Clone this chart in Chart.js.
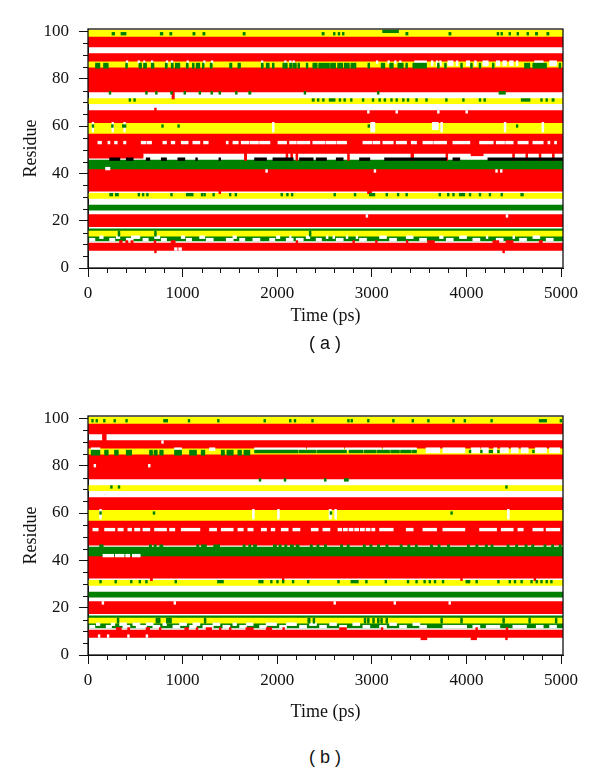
<!DOCTYPE html>
<html>
<head>
<meta charset="utf-8">
<script src="https://cdn.jsdelivr.net/npm/chart.js@4.4.0/dist/chart.umd.min.js"></script>
<style>
  body { margin: 0; background: #fff; width: 600px; height: 774px; position: relative; overflow: hidden; }
  canvas { position: absolute; left: 0; }
  #chartA { top: 0; }
  #chartB { top: 387px; }
  .cap { position: absolute; left: 25px; width: 600px; height: 22px; line-height: 22px; text-align: center;
         font-family: "Liberation Sans", Arial, sans-serif; font-size: 18px; color: #111; }
</style>
</head>
<body>
<canvas id="chartA" width="600" height="340"></canvas>
<div class="cap" style="top:332px">( a )</div>
<canvas id="chartB" width="600" height="340"></canvas>
<div class="cap" style="top:746px">( b )</div>
<script>
// Secondary structure per residue over the simulation, two runs (a) and (b)
const T_END = 5020;  // end of the time axis, bands run to the frame
const xTicks = [0, 1000, 2000, 3000, 4000, 5000];
const yTicks = [0, 20, 40, 60, 80, 100];
const stateColors = { R: '#ff0000', Y: '#ffff00', G: '#008000', K: '#000000', W: '#ffffff' };

// state held for the whole run: [first residue, last residue, state]
const bandsA = [
  [8, 10, 'R'], [12, 13, 'G'], [14, 15, 'Y'], [16, 16, 'G'], [18, 22, 'R'], [25, 26, 'G'],
  [30, 31, 'Y'], [33, 41, 'R'], [42, 45, 'G'], [49, 56, 'R'], [57, 61, 'Y'], [62, 66, 'R'],
  [70, 71, 'Y'], [75, 84, 'R'], [85, 87, 'Y'], [88, 90, 'R'], [94, 97, 'R'], [98, 100, 'Y']
];
const bandsB = [
  [8, 10, 'R'], [12, 13, 'G'], [14, 15, 'Y'], [16, 16, 'G'], [18, 22, 'R'], [25, 26, 'G'],
  [30, 31, 'Y'], [33, 41, 'R'], [42, 45, 'G'], [47, 56, 'R'], [57, 61, 'Y'], [62, 66, 'R'],
  [70, 71, 'Y'], [75, 84, 'R'], [85, 87, 'Y'], [88, 90, 'R'], [94, 97, 'R'], [98, 100, 'Y']
];

// short changes: [first residue, last residue, state, [t0, t1, t0, t1, ...]] (ps)
const eventsA = [
  [99, 99, 'G', [255,280, 350,400, 765,790, 865,885, 1110,1130, 1215,1235, 1640,1660, 2475,2495, 2595,2610, 2645,2660, 2690,2705, 3360,3380, 3815,3835, 4325,4340, 4365,4380, 4450,4465, 4535,4550, 4640,4655, 4730,4750, 4850,4870]],
  [100, 100, 'G', [3115,3280]],
  [85, 86, 'G', [81,124, 166,212, 400,415, 540,564, 589,617, 670,695, 818,836, 881,899, 924,969, 1040,1057, 1105,1120, 1145,1180, 1210,1225, 1293,1311, 1498,1519, 1586,1610, 1833,1850, 1885,1913, 1950,1965, 2083,2104, 2132,2153, 2185,2200, 2061,2075, 2167,2180, 2220,2235, 2308,2322, 2378,2420, 2440,2490, 2500,2550, 2565,2615, 2640,2690, 2710,2760, 2780,2830, 2960,2975, 3100,3135, 3190,3224, 3277,3330, 3360,3375, 3435,3576, 3695,3710, 3770,3785, 3940,3955, 4045,4060, 4135,4150, 4275,4290, 4615,4668, 4703,4844, 4980,4995]],
  [87, 87, 'W', [406,420, 529,545, 589,600, 670,684, 828,842, 881,895, 1047,1060, 1223,1236, 1304,1318, 1833,1847, 2079,2093, 2132,2146, 2167,2181, 3048,3062, 3171,3185, 3241,3255, 3294,3308, 3453,3576]],
  [86, 87, 'W', [3629,3645, 3682,3697, 3717,3732, 3805,3858, 3893,3908, 4000,4034, 4087,4102, 4175,4228, 4316,4350, 4386,4420, 4457,4492, 4527,4542, 4721,4809, 4880,4950]],
  [74, 74, 'G', [225,240, 610,625, 715,730, 875,890, 1015,1030, 1175,1190, 1300,1315, 1385,1400, 1560,1575, 1700,1720, 2285,2300, 3060,3075, 4345,4410]],
  [72, 74, 'R', [890,910]],
  [71, 71, 'G', [435,450, 485,500, 2370,2390, 2425,2440, 2480,2495, 2550,2610, 2655,2670, 2705,2720, 2775,2790, 2900,2915, 3005,3020, 3075,3090, 3130,3145, 3200,3215, 3255,3270, 3325,3340, 3375,3390, 3465,3480, 3570,3585, 3780,3795, 3960,3975, 4135,4150, 4185,4200, 4580,4670, 4785,4800, 4840,4855, 4905,4925]],
  [66, 66, 'W', [2955,2970, 3255,3270, 3695,3710, 3995,4010]],
  [67, 67, 'R', [705,720]],
  [58, 61, 'W', [45,58, 255,268, 380,393, 1950,1965, 2990,3030, 3730,3745, 4400,4415, 4800,4815]],
  [59, 61, 'W', [3640,3700]],
  [60, 60, 'G', [45,60, 250,265, 365,400, 780,795, 950,965, 2960,2975, 4528,4542]],
  [53, 53, 'W', [106,141, 212,230, 282,307, 378,399, 564,610, 625,670, 793,828, 881,916, 987,1057, 1110,1181, 1223,1269, 1463,1480, 1533,1586, 1621,1700, 1715,1800, 1815,1921, 2009,2097, 2132,2200, 2215,2343, 2378,2500, 2515,2620, 2635,2731, 2907,3000, 3015,3083, 3118,3224, 3259,3365, 3418,3470, 3541,3640, 3655,3788, 3858,4034, 4140,4281, 4316,4400, 4415,4492, 4545,4651, 4703,4809, 4862,4880, 4932,4950]],
  [47, 48, 'R', [0,580]],
  [46, 48, 'R', [1655,1675, 2095,2110, 2145,2160, 2200,2215, 2745,2760, 3415,3440, 3785,3800, 4490,4505, 4630,4645, 4770,4785, 4910,4925]],
  [48, 48, 'R', [4050,4175]],
  [46, 46, 'K', [230,335, 406,476, 617,652, 776,828, 951,1022, 1140,1155, 1385,1400, 1762,1885, 1956,2167, 2237,2378, 2413,2519, 2625,2695, 2871,2977, 3136,3788, 3858,3928, 4228,5020]],
  [42, 42, 'W', [187,230]],
  [41, 41, 'W', [1880,1895, 3025,3040, 4310,4325, 4360,4375]],
  [32, 32, 'R', [1385,1400, 2955,2995]],
  [31, 31, 'G', [230,260, 290,320, 530,545, 575,590, 620,635, 875,890, 1040,1110, 1198,1213, 1225,1240, 1320,1335, 1495,1510, 1555,1570, 2040,2055, 2100,2115, 2150,2165, 2600,2615, 2815,2830, 2975,3030, 3150,3165, 3270,3285, 3360,3375, 3710,3725, 3800,3815, 3855,3870, 3925,3980, 4030,4045, 4135,4150, 4240,4255, 4365,4380, 4575,4600]],
  [22, 22, 'W', [2940,2955, 4420,4435]],
  [14, 15, 'G', [320,335, 705,720, 2340,2355]],
  [13, 13, 'W', [124,159, 300,335, 459,547, 705,758, 987,1022, 1181,1233, 1533,1568, 1991,2026, 2132,2145, 2308,2343, 2519,2535, 2590,2605, 2730,2745, 2835,2850, 3083,3153, 3365,3435, 3717,3752, 3928,3999, 4210,4225, 4492,4507, 4703,4774]],
  [12, 12, 'W', [18,71, 230,282, 406,476, 582,635, 776,828, 1040,1093, 1251,1322, 1463,1533, 1604,1656, 1744,1815, 1921,1973, 2097,2167, 2202,2273, 2413,2466, 2625,2695, 2871,2942, 3189,3259, 3506,3576, 3788,3858, 4069,4140, 4316,4386, 4562,4633, 4844,4915]],
  [11, 11, 'R', [335,360, 400,420, 455,476, 700,715, 880,920, 2200,2215, 2800,2815, 3040,3055, 3365,3380, 3590,3660, 4280,4340, 4420,4492, 4770,4800]],
  [8, 8, 'W', [916,940, 960,987]],
  [7, 7, 'R', [705,720, 4385,4400]]
];

const eventsB = [
  [99, 99, 'G', [40,55, 85,100, 165,180, 275,290, 400,415, 800,840, 1060,1075, 1370,1385, 1860,1875, 2130,2145, 2180,2195, 2365,2380, 2745,2760, 2780,2795, 2955,2970, 3220,3235, 3425,3440, 3590,3605, 3855,3870, 3975,3990, 4258,4273, 4770,4845, 4990,5005]],
  [91, 93, 'R', [155,190]],
  [90, 90, 'W', [780,795]],
  [80, 80, 'W', [65,80, 640,655]],
  [85, 86, 'G', [35,124, 177,212, 282,318, 406,459, 652,680, 700,730, 760,793, 916,987, 1075,1145, 1198,1233, 1410,1440, 1470,1533, 1586,1620, 1650,1709]],
  [86, 86, 'G', [1762,2220, 2235,2410, 2425,2730, 2760,2905, 2920,3045, 3060,3185, 3200,3290, 3305,3415, 3430,3470, 4030,4045, 4150,4165, 4240,4275, 4330,4345, 4700,4715]],
  [87, 87, 'W', [35,124, 916,987, 1286,1340, 1762,2300, 2320,2700, 2720,3100, 3120,3470]],
  [86, 87, 'W', [3575,3716, 3752,3981, 4052,4140, 4160,4230, 4290,4320, 4360,4440, 4475,4545, 4580,4650, 4730,4844, 4880,4985]],
  [74, 74, 'G', [1810,1825, 2075,2090, 2500,2515, 2710,2750]],
  [71, 71, 'G', [240,255, 320,335, 4415,4430]],
  [58, 61, 'W', [125,140, 1740,1755, 2005,2020, 2550,2570, 2610,2625, 4435,4450]],
  [60, 60, 'G', [125,140, 690,705, 2560,2575, 3835,3850]],
  [53, 53, 'W', [53,106, 177,282, 318,371, 423,459, 494,547, 582,652, 705,828, 864,916, 987,1181, 1286,1357, 1410,1533, 1586,1639, 1691,1744, 1833,1885, 1938,1973, 2044,2114, 2167,2238, 2361,2431, 2484,2555, 2643,2680, 2700,2740, 2760,2800, 2820,2860, 2880,2920, 2940,2980, 3000,3030, 3083,3224, 3365,3435, 3541,3682, 3752,3981, 4140,4316, 4369,4492, 4545,4598, 4703,4809, 4844,4985]],
  [46, 46, 'G', [124,159, 650,670, 700,720, 760,790, 1150,1170, 1200,1250, 1330,1390, 1640,1660, 1700,1720, 1750,1780, 1960,1990, 2020,2040, 2080,2100, 2140,2170, 2200,2230, 2350,2370, 2420,2440, 2500,2520, 2670,2690, 2740,2760, 2910,2930, 2980,3000, 3060,3080, 3150,3170, 3300,3320, 3380,3400, 3460,3480, 3620,3640, 3700,3720, 3800,3820, 4010,4030, 4100,4120, 4200,4220, 4260,4280, 4430,4450, 4520,4540, 4620,4640, 4690,4710, 4820,4840, 4900,4920, 4980,5000]],
  [42, 42, 'W', [160,270, 290,380, 400,440, 470,550]],
  [32, 32, 'R', [660,680, 2055,2070, 3940,3955, 4715,4730]],
  [31, 31, 'G', [125,140, 285,300, 450,465, 540,555, 610,625, 920,935, 1370,1430, 1805,1850, 1930,1945, 1995,2010, 2055,2070, 2160,2175, 2320,2335, 2640,2655, 2780,2855, 2935,2950, 3140,3155, 3375,3390, 3465,3480, 3550,3565, 3605,3620, 3660,3675, 3745,3760, 3995,4035, 4100,4115, 4330,4345, 4450,4465, 4505,4520, 4575,4590, 4680,4695, 4735,4750, 4785,4800, 4840,4855, 4890,4905]],
  [22, 22, 'W', [150,165, 910,925, 2600,2615, 3235,3250, 3815,3830]],
  [14, 15, 'G', [310,325, 720,760, 830,880, 1230,1245, 2325,2345, 2380,2395, 2920,2935, 2955,2970, 3010,3025, 3060,3075, 3095,3110, 3150,3165, 3730,3745, 3940,3955, 4385,4400, 4660,4675, 4940,4955]],
  [13, 13, 'W', [89,124, 247,282, 335,406, 476,547, 617,687, 793,828, 969,1040, 1110,1181, 1322,1392, 1533,1568, 1674,1744, 1885,1991, 2097,2167, 2132,2202, 2343,2413, 2555,2625, 2800,2871, 3189,3259, 3435,3506]],
  [12, 12, 'W', [18,71, 194,247, 370,441, 511,617, 687,758, 899,969, 1075,1145, 1216,1322, 1427,1498, 1604,1674, 1815,1885, 2026,2096, 2237,2308, 2449,2519, 2660,2731, 2907,2977, 3083,3153, 3294,3365, 3506,3576, 3752,4000, 4069,4140, 4210,4351, 4492,4633, 4739,4809, 4880,4950]],
  [11, 11, 'R', [300,350, 420,440, 615,650, 755,770, 1025,1060, 1145,1160, 1250,1305, 1390,1405, 1495,1510, 1670,1745, 1885,1940, 2060,2075, 2660,2730, 3100,3115, 4100,4115, 4420,4435]],
  [8, 8, 'W', [110,125, 205,220, 420,435, 615,630]],
  [7, 7, 'R', [3520,3580, 4050,4105, 4415,4430]]
];

function makeDatasets(bands, events) {
  const sets = [];
  // short events on top (first dataset is drawn last)
  ['K', 'G', 'R', 'Y', 'W'].forEach(s => {
    const data = [];
    events.filter(e => e[2] === s).forEach(([r0, r1, , ts]) => {
      for (let r = r0; r <= r1; r++)
        for (let i = 0; i < ts.length; i += 2) data.push({ x: [ts[i], ts[i + 1]], y: r });
    });
    if (data.length) sets.push({ data, backgroundColor: stateColors[s], order: 0 });
  });
  ['R', 'Y', 'G'].forEach(s => {
    const data = [];
    bands.filter(b => b[2] === s).forEach(([r0, r1]) => {
      for (let r = r0; r <= r1; r++) data.push({ x: [0, T_END], y: r });
    });
    sets.push({ data, backgroundColor: stateColors[s], order: 1 });
  });
  return sets;
}

// minor ticks and the closed frame
const framePlugin = {
  id: 'frame',
  afterDraw(chart) {
    const { ctx, chartArea: a, scales: { x, y } } = chart;
    ctx.save();
    ctx.strokeStyle = '#111';
    ctx.lineWidth = 1;
    ctx.beginPath();
    for (let v = 200; v < 5000; v += 200) {
      if (v % 1000 === 0) continue;
      const px = Math.round(x.getPixelForValue(v)) + 0.5;
      ctx.moveTo(px, a.bottom); ctx.lineTo(px, a.bottom + 5);
    }
    for (let v = 5; v < 100; v += 5) {
      if (v % 20 === 0) continue;
      const py = Math.round(y.getPixelForValue(v)) + 0.5;
      ctx.moveTo(a.left, py); ctx.lineTo(a.left - 5, py);
    }
    ctx.stroke();
    ctx.lineWidth = 1.3;
    ctx.strokeRect(a.left, a.top, a.right - a.left, a.bottom - a.top);
    ctx.restore();
  }
};

Chart.defaults.font.family = '"Liberation Serif", "Times New Roman", serif';
Chart.defaults.color = '#111';

function drawPanel(id, bands, events, titlePad) {
  new Chart(document.getElementById(id), {
    type: 'bar',
    data: { datasets: makeDatasets(bands, events) },
    options: {
      indexAxis: 'y',
      responsive: false,
      animation: false,
      events: [],
      layout: { padding: { top: 29, right: 37, left: 0, bottom: 0 } },
      datasets: {
        bar: { grouped: false, barPercentage: 1, categoryPercentage: 1, inflateAmount: 0.5, borderWidth: 0 }
      },
      plugins: { legend: { display: false }, tooltip: { enabled: false } },
      scales: {
        x: {
          type: 'linear', min: 0, max: T_END,
          afterBuildTicks: s => { s.ticks = xTicks.map(v => ({ value: v })); },
          afterFit: s => { s.height = 72; },
          grid: { drawOnChartArea: false, drawTicks: true, tickLength: 9, tickColor: '#111' },
          border: { display: true, color: '#111' },
          ticks: { padding: 6, font: { size: 17 }, maxRotation: 0, callback: v => String(v) },
          title: { display: true, text: 'Time (ps)', font: { size: 18 }, padding: { top: 0, bottom: titlePad } }
        },
        y: {
          type: 'linear', min: 0, max: 101, offset: false,
          afterBuildTicks: s => { s.ticks = yTicks.map(v => ({ value: v })); },
          afterFit: s => { s.width = 88; },
          grid: { offset: false, drawOnChartArea: false, drawTicks: true, tickLength: 9, tickColor: '#111' },
          border: { display: true, color: '#111' },
          ticks: { padding: 10, font: { size: 17 }, callback: v => String(v) },
          title: { display: true, text: 'Residue', font: { size: 18 }, padding: { top: 20, bottom: 0 } }
        }
      }
    },
    plugins: [framePlugin]
  });
}

drawPanel('chartA', bandsA, eventsA, 13);
drawPanel('chartB', bandsB, eventsB, 4);
</script>
</body>
</html>
